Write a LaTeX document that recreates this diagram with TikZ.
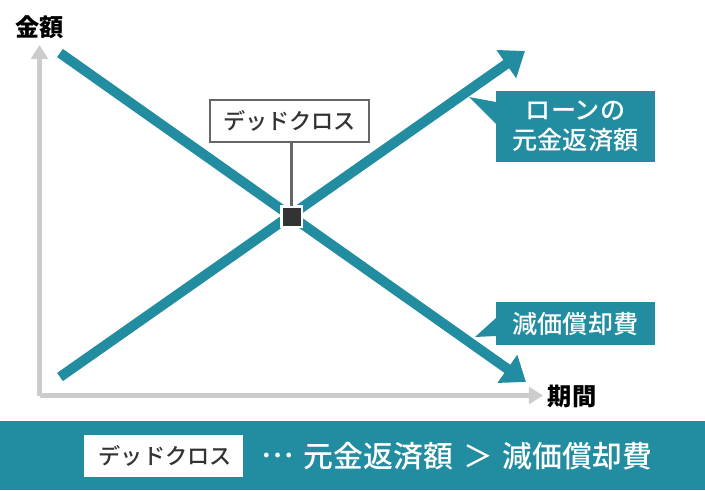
\documentclass[tikz,border=0pt]{standalone}
\usepackage{fontspec}
\setmainfont{Noto Sans CJK JP}
\newfontfamily\medfont{Noto Sans CJK JP Medium}
\usetikzlibrary{arrows.meta}
\definecolor{teal1}{HTML}{228CA0}
\definecolor{axisgray}{HTML}{CCCCCC}
\definecolor{framegray}{HTML}{666666}
\definecolor{darkbox}{HTML}{333333}
\begin{document}
\begin{tikzpicture}[
        x=0.02cm, y=-0.02cm,
        axis/.style={-{Triangle[length=8pt,width=9.5pt]}, axisgray, line width=2.6pt},
        trend/.style={-{Triangle[length=13pt,width=18.7pt]}, teal1, line width=5.7pt},
        callout/.style={fill=teal1, text=white, inner sep=0pt, minimum width=3.18cm, align=center, font=\medfont\fontsize{14.3pt}{17pt}\selectfont},
        crossbox/.style={fill=white, text=darkbox, inner sep=0pt, minimum width=3.18cm, minimum height=0.84cm, font=\medfont\fontsize{12.6pt}{15pt}\selectfont},
        axislabel/.style={text=black, inner sep=0pt, font=\bfseries\fontsize{13.8pt}{16pt}\selectfont}
    ]
        \useasboundingbox (0,0) rectangle (705,490);

        % --- Axes ---
        \coordinate (origin) at (39.5,395.5);
        \coordinate (yend) at (39.5,45);
        \coordinate (xend) at (543,395.5);
        \draw[axis] (origin) -- (yend);
        \draw[axis] (origin) -- (xend);
        \node[axislabel] (ylabel) at (39.5,27) {金額};
        \node[axislabel] (xlabel) at (572,396) {期間};

        % --- Crossing lines ---
        \coordinate (upstart) at (60,377);
        \coordinate (upend) at (525,51);
        \coordinate (downstart) at (60,53);
        \coordinate (downend) at (526,382);
        \draw[trend] (upstart) -- (upend);
        \draw[trend] (downstart) -- (downend);

        % --- Dead cross marker ---
        \node[crossbox, draw=framegray, line width=1.1pt] (deadcross) at (289.5,121) {デッドクロス};
        \node[fill=darkbox, draw=white, line width=1.7pt, inner sep=0pt, outer sep=0pt, minimum size=0.42cm] (crosspoint) at (291.5,216.5) {};
        \draw[framegray, line width=2.2pt] (deadcross.south -| crosspoint) -- (crosspoint.north);

        % --- Callouts ---
        \coordinate (loantip) at (469,97);
        \coordinate (deprtip) at (475,337);
        \fill[teal1] (loantip) -- (496,102) -- (496,124) -- cycle;
        \fill[teal1] (deprtip) -- (496,318) -- (496,336) -- cycle;
        \node[callout, minimum height=1.42cm] (loan) at (575.5,126.5) {ローンの\\元金返済額};
        \node[callout, minimum height=0.86cm] (depr) at (575.5,323.5) {減価償却費};

        % --- Bottom band ---
        \fill[teal1] (0,421) rectangle (705,490);
        \node[crossbox] (legend) at (163.5,456) {\hspace*{2pt}デッドクロス};
        \node[text=white, inner sep=0pt, font=\medfont\fontsize{17pt}{20pt}\selectfont] (formula) at (457,456) {\raisebox{0.33em}{…}\hspace{5.67pt}元金返済額\hspace{5.67pt}＞\hspace{5.67pt}減価償却費};
    \end{tikzpicture}
\end{document}
